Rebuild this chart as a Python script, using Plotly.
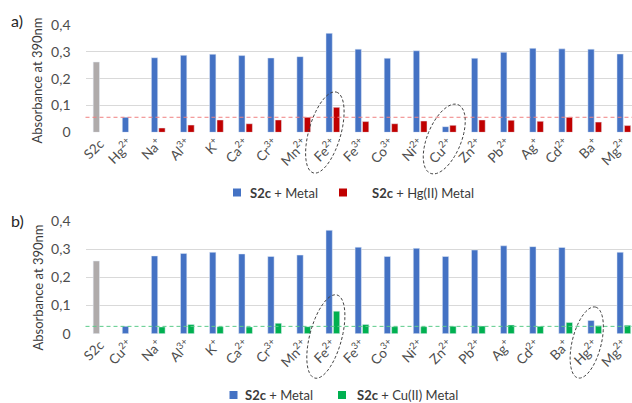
import math
import plotly.graph_objects as go

# ---- data -------------------------------------------------------------
labels_a = ["S2c", "Hg<sup>2+</sup>", "Na<sup>+</sup>", "Al<sup>3+</sup>", "K<sup>+</sup>",
            "Ca<sup>2+</sup>", "Cr<sup>3+</sup>", "Mn<sup>2+</sup>", "Fe<sup>2+</sup>",
            "Fe<sup>3+</sup>", "Co<sup>3+</sup>", "Ni<sup>2+</sup>", "Cu<sup>2+</sup>",
            "Zn<sup>2+</sup>", "Pb<sup>2+</sup>", "Ag<sup>+</sup>", "Cd<sup>2+</sup>",
            "Ba<sup>+</sup>", "Mg<sup>2+</sup>"]
s2c_a = 0.262
metal_a = [None, 0.056, 0.278, 0.287, 0.291, 0.286, 0.277, 0.282, 0.369, 0.310,
           0.276, 0.304, 0.021, 0.276, 0.298, 0.313, 0.311, 0.310, 0.292]
hg_metal_a = [None, None, 0.016, 0.027, 0.046, 0.032, 0.046, 0.056, 0.093, 0.040,
              0.032, 0.042, 0.026, 0.046, 0.045, 0.041, 0.056, 0.038, 0.025]

labels_b = ["S2c", "Cu<sup>2+</sup>", "Na<sup>+</sup>", "Al<sup>3+</sup>", "K<sup>+</sup>",
            "Ca<sup>2+</sup>", "Cr<sup>3+</sup>", "Mn<sup>2+</sup>", "Fe<sup>2+</sup>",
            "Fe<sup>3+</sup>", "Co<sup>3+</sup>", "Ni<sup>2+</sup>", "Zn<sup>2+</sup>",
            "Pb<sup>2+</sup>", "Ag<sup>+</sup>", "Cd<sup>2+</sup>", "Ba<sup>+</sup>",
            "Hg<sup>2+</sup>", "Mg<sup>2+</sup>"]
s2c_b = 0.258
metal_b = [None, 0.026, 0.276, 0.285, 0.289, 0.283, 0.274, 0.279, 0.367, 0.307,
           0.274, 0.303, 0.274, 0.297, 0.312, 0.309, 0.306, 0.047, 0.289]
cu_metal_b = [None, None, 0.024, 0.033, 0.025, 0.024, 0.037, 0.025, 0.080, 0.033,
              0.025, 0.025, 0.026, 0.027, 0.031, 0.026, 0.040, 0.028, 0.030]

y_ticks = [0, 0.1, 0.2, 0.3, 0.4]

series_a = ["<b>S2c</b> + Metal", "<b>S2c</b> + Hg(II) Metal"]
series_b = ["<b>S2c</b> + Metal", "<b>S2c</b> + Cu(II) Metal"]

# ---- styling ----------------------------------------------------------
W, H = 632, 403
FONT = "Lato, 'Open Sans', sans-serif"
BLUE = "#4472C4"
RED = "#C00000"
GREEN = "#00B050"
GREY = "#AFABAB"
GRID = "#D9D9D9"
TICK_COL = "#4d4d4d"
TEXT_COL = "#3a3a3a"

PLOT_L = 85.5      # left edge of the plotting area (px)
BAND = 29.1        # width of one category band (px)
x_max = -0.5 + (W - PLOT_L) / BAND


def py(v):
    """pixel row -> paper y"""
    return 1 - v / H


def cat_px(i):
    return PLOT_L + (i + 0.5) * BAND


def ellipse_path(cx, cy, a, b, tilt_deg, n=72):
    t = math.radians(tilt_deg)
    ux, uy = math.sin(t), -math.cos(t)
    vx, vy = math.cos(t), math.sin(t)
    pts = []
    for k in range(n):
        s = 2 * math.pi * k / n
        x = cx + a * math.cos(s) * ux + b * math.sin(s) * vx
        y = cy + a * math.cos(s) * uy + b * math.sin(s) * vy
        pts.append(f"{x / W:.5f},{py(y):.5f}")
    return "M" + " L".join(pts) + " Z"


fig = go.Figure()

# ---- panel a ----------------------------------------------------------
fig.add_trace(go.Bar(x=[labels_a[0]], y=[s2c_a], marker_color=GREY, offsetgroup="m",
                     name="S2c", xaxis="x", yaxis="y"))
fig.add_trace(go.Bar(x=labels_a, y=metal_a, marker_color=BLUE, offsetgroup="m",
                     name=series_a[0], xaxis="x", yaxis="y"))
fig.add_trace(go.Bar(x=labels_a, y=hg_metal_a, marker_color=RED, offsetgroup="r",
                     name=series_a[1], xaxis="x", yaxis="y"))

# ---- panel b ----------------------------------------------------------
fig.add_trace(go.Bar(x=[labels_b[0]], y=[s2c_b], marker_color=GREY, offsetgroup="m",
                     name="S2c", xaxis="x2", yaxis="y2"))
fig.add_trace(go.Bar(x=labels_b, y=metal_b, marker_color=BLUE, offsetgroup="m",
                     name=series_b[0], xaxis="x2", yaxis="y2"))
fig.add_trace(go.Bar(x=labels_b, y=cu_metal_b, marker_color=GREEN, offsetgroup="r",
                     name=series_b[1], xaxis="x2", yaxis="y2"))

xaxis_common = dict(
    domain=[PLOT_L / W, 1], range=[-0.5, x_max], showgrid=False, zeroline=False,
    showline=False, ticks="", tickangle=-45, ticklabelstandoff=0,
    tickfont=dict(size=13.5, color=TICK_COL, family=FONT), automargin=False,
)
yaxis_common = dict(
    range=[0, 0.4], tickvals=y_ticks, showgrid=True, gridcolor=GRID, gridwidth=1,
    zeroline=False, showline=False, ticks="", ticklabelstandoff=14,
    tickfont=dict(size=14, color=TICK_COL, family=FONT), automargin=False,
)

shapes = [
    # reference level of the free probe with Hg(II) / Cu(II)
    dict(type="line", xref="paper", yref="y", x0=PLOT_L / W, x1=1,
         y0=metal_a[1], y1=metal_a[1], line=dict(color="#F08080", width=1, dash="4px,3px")),
    dict(type="line", xref="paper", yref="y2", x0=PLOT_L / W, x1=1,
         y0=metal_b[1], y1=metal_b[1], line=dict(color="#5CCB8A", width=1, dash="4px,3px")),
]
# dashed rings around the responding metals
for cx, cy, a, b, tilt in [
    (cat_px(8) - 8, 132.5, 42, 16, 16),
    (cat_px(12) - 5, 139, 37, 17, 22),
    (cat_px(8) - 7, 336.5, 43, 16, 15),
    (cat_px(17) - 8, 342.5, 36.5, 14.5, 14),
]:
    shapes.append(dict(type="path", xref="paper", yref="paper",
                       path=ellipse_path(cx, cy, a, b, tilt),
                       line=dict(color="#404040", width=1, dash="3px,2px")))

annotations = [
    dict(text="a)", x=17 / W, y=py(20)),
    dict(text="b)", x=17 / W, y=py(221)),
]
for a in annotations:
    a.update(xref="paper", yref="paper", showarrow=False, xanchor="center",
             yanchor="middle", font=dict(size=16, color="#262626", family=FONT))

for yc in (80.5, 287.5):
    annotations.append(dict(text="Absorbance at 390nm", x=37 / W, y=py(yc), xref="paper",
                            yref="paper", showarrow=False, textangle=-90,
                            xanchor="center", yanchor="middle",
                            font=dict(size=13, color=TEXT_COL, family=FONT)))

# legends: colour key squares with their series names
legend_items = [
    (series_a[0], BLUE, 237, 248, 192.5),
    (series_a[1], RED, 343, 370, 192.5),
    (series_b[0], BLUE, 233.5, 243, 395),
    (series_b[1], GREEN, 342, 355, 395),
]
for name, col, sq_x, txt_x, yc in legend_items:
    shapes.append(dict(type="rect", xref="paper", yref="paper",
                       x0=(sq_x - 4) / W, x1=(sq_x + 4) / W,
                       y0=py(yc + 4), y1=py(yc - 4),
                       fillcolor=col, line=dict(width=0)))
    annotations.append(dict(text=name, x=txt_x / W, y=py(yc), xref="paper", yref="paper",
                            showarrow=False, xanchor="left", yanchor="middle",
                            font=dict(size=13, color=TEXT_COL, family=FONT)))

fig.update_layout(
    width=W, height=H, margin=dict(l=0, r=0, t=0, b=0),
    paper_bgcolor="white", plot_bgcolor="white",
    font=dict(family=FONT, color=TEXT_COL),
    separators=",.",
    showlegend=False,
    barmode="group", bargap=0.49, bargroupgap=0.15,
    xaxis=dict(**xaxis_common, anchor="y"),
    yaxis=dict(**yaxis_common, domain=[py(132.3), py(25)], anchor="x"),
    xaxis2=dict(**xaxis_common, anchor="y2"),
    yaxis2=dict(**yaxis_common, domain=[py(333.7), py(221)], anchor="x2"),
    shapes=shapes,
    annotations=annotations,
)

fig.write_html("out.html")
